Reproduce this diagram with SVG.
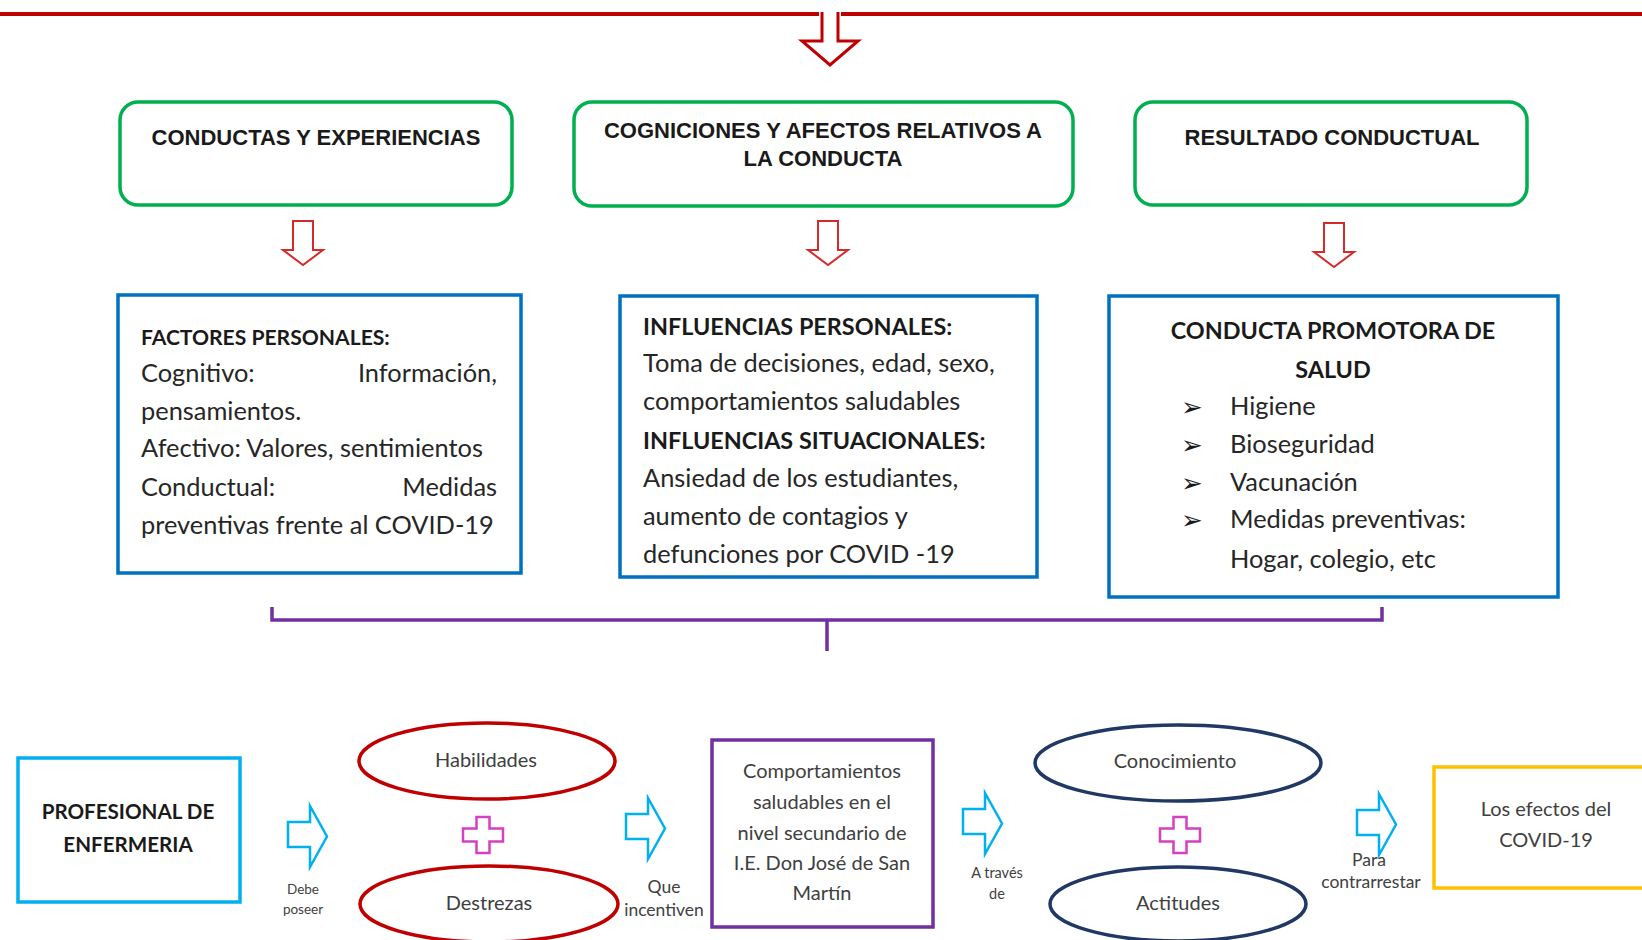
<svg xmlns="http://www.w3.org/2000/svg" width="1642" height="940" viewBox="0 0 1642 940">
<style>
.g{fill:#fff;stroke:#00B050;stroke-width:3.5}
.b{fill:#fff;stroke:#0070C0;stroke-width:3.5}
.h{font-family:"Liberation Sans",Arial,sans-serif;font-weight:bold;font-size:22px;fill:#1a1a1a;text-anchor:middle}
.t{font-family:Lato,"Noto Sans",sans-serif;font-size:25.4px;fill:#262626}
.tb{font-family:Lato,"Noto Sans",sans-serif;font-size:23.4px;font-weight:bold;fill:#1a1a1a}
.s{font-family:Lato,"Noto Sans",sans-serif;fill:#404040;text-anchor:middle}
.ra{fill:#fff;stroke:#D42A2A;stroke-width:2}
.la{fill:#fff;stroke:#00B0F0;stroke-width:2.5}
.pl{fill:#fff;stroke:#D63FC0;stroke-width:2.5}
</style>
<defs>
<path id="dArrow" d="M-10,0 H10 V29 H20 L0,44 L-20,29 H-10 Z"/>
<path id="rArrow" d="M0,16 H22 V0 L39,30.5 L22,61 V41 H0 Z"/>
<path id="plus" d="M-6.5,-18 H6.5 V-6.5 H20 V6.5 H6.5 V18 H-6.5 V6.5 H-20 V-6.5 H-6.5 Z"/>
</defs>
<rect width="1642" height="940" fill="#fff"/>

<g id="connectors">
<line x1="0" y1="14" x2="819" y2="14" stroke="#C00000" stroke-width="4"/>
<line x1="841" y1="14" x2="1642" y2="14" stroke="#C00000" stroke-width="4"/>
<path d="M822,12 V41 H802 L830,65 L858,41 H838 V12" fill="#fff" stroke="#C00000" stroke-width="3"/>
<use href="#dArrow" class="ra" x="303" y="221"/>
<use href="#dArrow" class="ra" x="828" y="221"/>
<use href="#dArrow" class="ra" x="1334" y="223"/>
<path d="M272,607 V620 H1382 V607 M827,620 V651" fill="none" stroke="#7030A0" stroke-width="3.5"/>
<use href="#rArrow" class="la" x="288" y="806"/>
<use href="#rArrow" class="la" x="626" y="798"/>
<use href="#rArrow" class="la" x="963" y="793"/>
<use href="#rArrow" class="la" x="1357" y="794"/>
<text class="s" font-size="13.5" x="303" y="894">Debe</text>
<text class="s" font-size="13.5" x="303" y="914">poseer</text>
<text class="s" font-size="17.5" x="664" y="893">Que</text>
<text class="s" font-size="17.5" x="664" y="916">incentiven</text>
<text class="s" font-size="14.5" x="997" y="878">A través</text>
<text class="s" font-size="14.5" x="997" y="899">de</text>
<text class="s" font-size="17.5" x="1369" y="866">Para</text>
<text class="s" font-size="17.5" x="1371" y="888">contrarrestar</text>
<use href="#plus" class="pl" x="483" y="835"/>
<use href="#plus" class="pl" x="1180" y="835"/>
</g>

<g id="n-conductas">
<rect class="g" x="120" y="102" width="392" height="103" rx="18"/>
<text class="h" x="316" y="145">CONDUCTAS Y EXPERIENCIAS</text>
</g>
<g id="n-cogniciones">
<rect class="g" x="574" y="102" width="499" height="104" rx="18"/>
<text class="h" x="823" y="138">COGNICIONES Y AFECTOS RELATIVOS A</text>
<text class="h" x="823" y="166">LA CONDUCTA</text>
</g>
<g id="n-resultado">
<rect class="g" x="1135" y="102" width="392" height="103" rx="18"/>
<text class="h" x="1332" y="145">RESULTADO CONDUCTUAL</text>
</g>

<g id="n-factores">
<rect class="b" x="118" y="295" width="403" height="278"/>
<text class="tb" x="141" y="345" style="font-size:21.1px">FACTORES PERSONALES:</text>
<text class="t" x="141" y="382">Cognitivo:</text>
<text class="t" x="497" y="382" text-anchor="end">Información,</text>
<text class="t" x="141" y="420">pensamientos.</text>
<text class="t" x="141" y="457">Afectivo: Valores, sentimientos</text>
<text class="t" x="141" y="496">Conductual:</text>
<text class="t" x="497" y="496" text-anchor="end">Medidas</text>
<text class="t" x="141" y="534">preventivas frente al COVID-19</text>
</g>

<g id="n-influencias">
<rect class="b" x="620" y="296" width="417" height="281"/>
<text class="tb" x="643" y="335">INFLUENCIAS PERSONALES:</text>
<text class="t" x="643" y="372">Toma de decisiones, edad, sexo,</text>
<text class="t" x="643" y="410">comportamientos saludables</text>
<text class="tb" x="643" y="449">INFLUENCIAS SITUACIONALES:</text>
<text class="t" x="643" y="487">Ansiedad de los estudiantes,</text>
<text class="t" x="643" y="525">aumento de contagios y</text>
<text class="t" x="643" y="563">defunciones por COVID -19</text>
</g>

<g id="n-promotora">
<rect class="b" x="1109" y="296" width="449" height="301"/>
<text class="tb" x="1333" y="339" text-anchor="middle">CONDUCTA PROMOTORA DE</text>
<text class="tb" x="1333" y="378" text-anchor="middle">SALUD</text>
<g font-family="'DejaVu Sans',sans-serif" font-size="26" fill="#1a1a1a" text-anchor="middle">
<text x="1192" y="416">➢</text>
<text x="1192" y="454">➢</text>
<text x="1192" y="492">➢</text>
<text x="1192" y="529">➢</text>
</g>
<text class="t" x="1230" y="415">Higiene</text>
<text class="t" x="1230" y="453">Bioseguridad</text>
<text class="t" x="1230" y="491">Vacunación</text>
<text class="t" x="1230" y="528">Medidas preventivas:</text>
<text class="t" x="1230" y="568">Hogar, colegio, etc</text>
</g>

<g id="n-profesional">
<rect x="18" y="758" width="222" height="144" fill="#fff" stroke="#00B0F0" stroke-width="3.5"/>
<text class="tb" x="128" y="819" style="font-size:20.6px" text-anchor="middle">PROFESIONAL DE</text>
<text class="tb" x="128" y="852" style="font-size:20.6px" text-anchor="middle">ENFERMERIA</text>
</g>

<g id="n-habilidades">
<ellipse cx="487" cy="761" rx="128" ry="38" fill="#fff" stroke="#C00000" stroke-width="3.5"/>
<text class="s" font-size="20" x="486" y="767">Habilidades</text>
</g>
<g id="n-destrezas">
<ellipse cx="489" cy="904" rx="129" ry="38" fill="#fff" stroke="#C00000" stroke-width="3.5"/>
<text class="s" font-size="20" x="489" y="910">Destrezas</text>
</g>

<g id="n-comportamientos">
<rect x="712" y="740" width="221" height="187" fill="#fff" stroke="#7030A0" stroke-width="3.5"/>
<g class="s" font-size="20">
<text x="822" y="778">Comportamientos</text>
<text x="822" y="809">saludables en el</text>
<text x="822" y="840">nivel secundario de</text>
<text x="822" y="870">I.E. Don José de San</text>
<text x="822" y="900">Martín</text>
</g>
</g>

<g id="n-conocimiento">
<ellipse cx="1178" cy="763" rx="143" ry="38" fill="#fff" stroke="#1F3864" stroke-width="3.5"/>
<text class="s" font-size="20" x="1175" y="768">Conocimiento</text>
</g>
<g id="n-actitudes">
<ellipse cx="1178" cy="904" rx="128" ry="37" fill="#fff" stroke="#1F3864" stroke-width="3.5"/>
<text class="s" font-size="20" x="1178" y="910">Actitudes</text>
</g>

<g id="n-efectos">
<rect x="1434" y="767" width="220" height="121" fill="#fff" stroke="#FFC000" stroke-width="3.5"/>
<text class="s" font-size="20" x="1546" y="816">Los efectos del</text>
<text class="s" font-size="20" x="1546" y="847">COVID-19</text>
</g>
</svg>
